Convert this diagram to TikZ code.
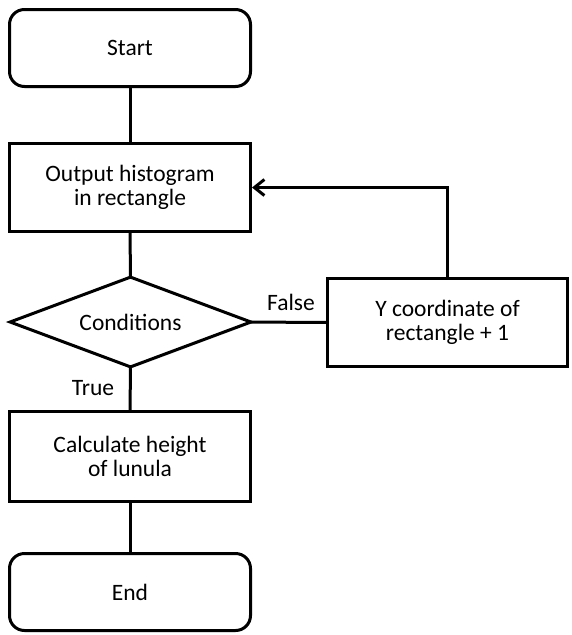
\documentclass[tikz,border=0pt]{standalone}
\usepackage{fontspec}
\setmainfont{Carlito}
\usetikzlibrary{shapes.geometric,arrows.meta,shadows,backgrounds}
\tikzset{every node/.style={font=\fontsize{23.5}{24}\selectfont, align=center},
         shade/.style={drop shadow={opacity=0.25, shadow xshift=1pt, shadow yshift=-1.5pt}},
         stepbox/.style={draw, line width=3pt, fill=white, shade,
                         minimum width=241pt, minimum height=88pt},
         terminal/.style={stepbox, rounded corners=15pt, minimum height=77pt},
         decision/.style={draw, diamond, aspect=2.66, line width=3pt, fill=white, shade,
                          minimum width=242pt, minimum height=91pt, inner sep=0pt},
         flow/.style={line width=3pt},
         edgetext/.style={inner sep=0pt}}

\begin{document}
\begin{tikzpicture}[x=1pt,y=-1pt]
\useasboundingbox (0,0) rectangle (571,635);
\node[terminal] (start) at (130,48) {Start};
\node[stepbox] (output) at (130,187.5) {Output histogram\\in rectangle};
\node[decision] (cond) at (130.5,322) {Conditions};
\node[stepbox, minimum width=240pt] (ycoord) at (447.5,322.5) {Y coordinate of\\rectangle + 1};
\node[stepbox, minimum height=90pt] (calc) at (130,456.5) {Calculate height\\of lunula};
\node[terminal] (end) at (130,592) {End};
% connectors
\begin{scope}[on background layer]
\draw[flow] (start.center) -- (output.center);
\draw[flow] (output.center) -- (cond.center);
\draw[flow] (cond.center) -- (ycoord.center);
\draw[flow] (cond.center) -- (calc.center);
\draw[flow] (calc.center) -- (end.center);
\end{scope}
\draw[flow, -{Straight Barb[length=10pt,width=16pt]}] (ycoord.north) |- (output.east);
\node[edgetext] (falsetext) at (291,302) {False};
\node[edgetext] (truetext) at (93,388) {True};
\end{tikzpicture}
\end{document}
